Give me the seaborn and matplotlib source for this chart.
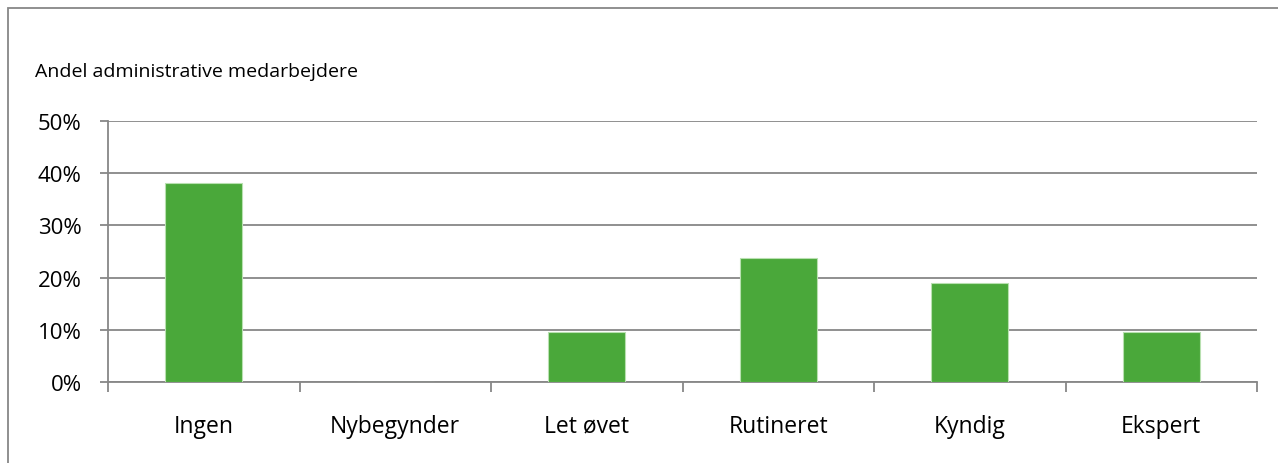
import matplotlib
matplotlib.use("Agg")
import matplotlib.pyplot as plt
import matplotlib.patches as mpatches
from matplotlib.ticker import PercentFormatter, FixedLocator
import seaborn as sns
import pandas as pd

# data
categories = ["Ingen", "Nybegynder", "Let øvet", "Rutineret", "Kyndig", "Ekspert"]
shares = [0.381, 0.0, 0.095, 0.238, 0.190, 0.095]
y_ticks = [0.0, 0.1, 0.2, 0.3, 0.4, 0.5]
title = "Andel administrative medarbejdere"

df = pd.DataFrame({"niveau": categories, "andel": shares})

sns.set_theme(style="white")
plt.rcParams["font.family"] = ["Open Sans", "DejaVu Sans"]
plt.rcParams["text.color"] = "black"

grey = "#878787"
green = "#4aa83a"

fig = plt.figure(figsize=(12.78, 4.64), dpi=100)
ax = fig.add_axes([108 / 1278, 1 - 383 / 464, 1149 / 1278, 261 / 464])

sns.barplot(data=df, x="niveau", y="andel", color=green, width=0.4,
            edgecolor="#b8e0b0", linewidth=0.8, saturation=1, ax=ax, zorder=3)

ax.set_ylim(0, 0.5)
ax.set_xlim(-0.5, len(categories) - 0.5)
ax.set_yticks(y_ticks)
ax.yaxis.set_major_formatter(PercentFormatter(1.0, decimals=0))
ax.grid(axis="y", color=grey, linewidth=1.3, zorder=0)
ax.set_axisbelow(True)

for side in ["top", "right"]:
    ax.spines[side].set_visible(False)
for side in ["left", "bottom"]:
    ax.spines[side].set_color(grey)
    ax.spines[side].set_linewidth(1.3)

ax.tick_params(axis="y", left=True, length=6, width=1.3, color=grey,
               labelsize=16, pad=13, labelcolor="black")
ax.tick_params(axis="x", which="major", bottom=False, labelsize=16.5, pad=17,
               labelcolor="black")
ax.xaxis.set_minor_locator(FixedLocator([i - 0.5 for i in range(len(categories) + 1)]))
ax.tick_params(axis="x", which="minor", bottom=True, length=7, width=1.3, color=grey)
ax.set_xlabel("")
ax.set_ylabel("")

fig.text(35 / 1278, 1 - 72 / 464, title, fontsize=14, va="center", ha="left",
         color="black")

# outer chart frame
frame = mpatches.Rectangle((8 / 1278, -0.1), 1.2, 1 - 9 / 464 + 0.1,
                           transform=fig.transFigure, fill=False,
                           edgecolor=grey, linewidth=1.3)
fig.patches.append(frame)

fig.savefig("out.png", dpi=100)
